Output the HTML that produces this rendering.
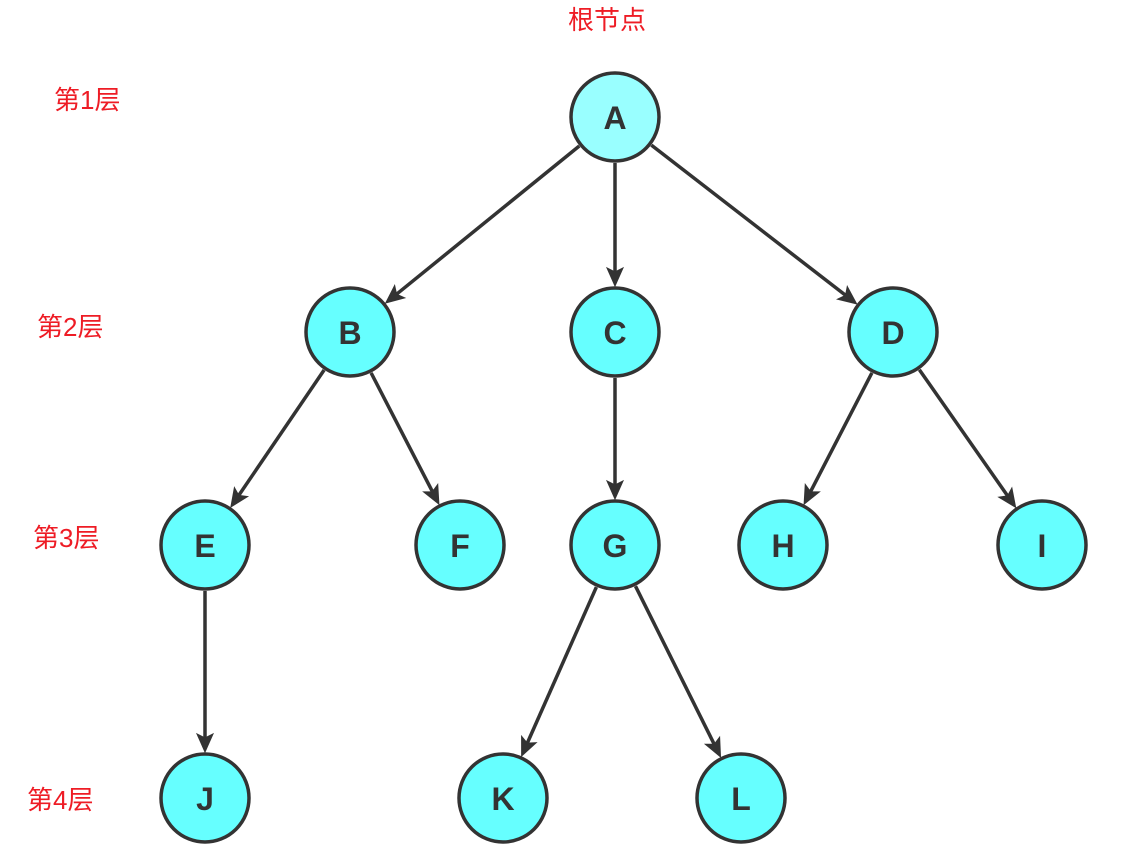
<!DOCTYPE html>
<html><head><meta charset="utf-8"><style>
body{margin:0;background:#fff;width:1142px;height:864px;overflow:hidden}
.l{position:absolute;color:#ee1c25;font:26px "Liberation Sans","Noto Sans CJK SC",sans-serif;white-space:nowrap;line-height:1}
</style></head><body>
<div class="l" style="left:568px;top:7px">根节点</div>
<div class="l" style="left:54px;top:87px">第1层</div>
<div class="l" style="left:37px;top:314px">第2层</div>
<div class="l" style="left:33px;top:525px">第3层</div>
<div class="l" style="left:27px;top:787px">第4层</div>
<svg id="s" width="1142" height="864" style="position:absolute;left:0;top:0">
<g id="edges" stroke="#333" stroke-width="3.5" fill="#333"></g>
<g stroke="#333" stroke-width="3.5" fill="#66ffff">
<circle cx="615" cy="117" r="44" fill="#99ffff"/>
<circle cx="350" cy="332" r="44"/><circle cx="615" cy="332" r="44"/><circle cx="893" cy="332" r="44"/>
<circle cx="205" cy="545" r="44"/><circle cx="460" cy="545" r="44"/><circle cx="615" cy="545" r="44"/><circle cx="783" cy="545" r="44"/><circle cx="1042" cy="545" r="44"/>
<circle cx="205" cy="798" r="44"/><circle cx="503" cy="798" r="44"/><circle cx="741" cy="798" r="44"/>
</g>
<g fill="#333" font-family="Liberation Sans, sans-serif" font-weight="bold" font-size="32" text-anchor="middle">
<text x="615" y="129">A</text>
<text x="350" y="344">B</text><text x="615" y="344">C</text><text x="893" y="344">D</text>
<text x="205" y="557">E</text><text x="460" y="557">F</text><text x="615" y="557">G</text><text x="783" y="557">H</text><text x="1042" y="557">I</text>
<text x="205" y="810">J</text><text x="503" y="810">K</text><text x="741" y="810">L</text>
</g>
</svg>
<script>
var P={A:[615,117],B:[350,332],C:[615,332],D:[893,332],E:[205,545],F:[460,545],G:[615,545],H:[783,545],I:[1042,545],J:[205,798],K:[503,798],L:[741,798]};
var E=["AB","AC","AD","BE","BF","CG","DH","DI","EJ","GK","GL"];
var g=document.getElementById("edges"),ns="http://www.w3.org/2000/svg",r=46;
E.forEach(function(e){var a=P[e[0]],b=P[e[1]],dx=b[0]-a[0],dy=b[1]-a[1],L=Math.hypot(dx,dy),ux=dx/L,uy=dy/L;
var x1=a[0]+ux*r,y1=a[1]+uy*r,x2=b[0]-ux*r,y2=b[1]-uy*r,h=18,w=8;
var bx=x2-ux*h,by=y2-uy*h;
var l=document.createElementNS(ns,"line");l.setAttribute("x1",x1);l.setAttribute("y1",y1);l.setAttribute("x2",bx+ux*4);l.setAttribute("y2",by+uy*4);g.appendChild(l);
var p=document.createElementNS(ns,"polygon");p.setAttribute("stroke-width","1");
p.setAttribute("points",[x2,y2,bx-uy*w,by+ux*w,bx+ux*4,by+uy*4,bx+uy*w,by-ux*w].join(" "));g.appendChild(p);});
</script>
</body></html>
